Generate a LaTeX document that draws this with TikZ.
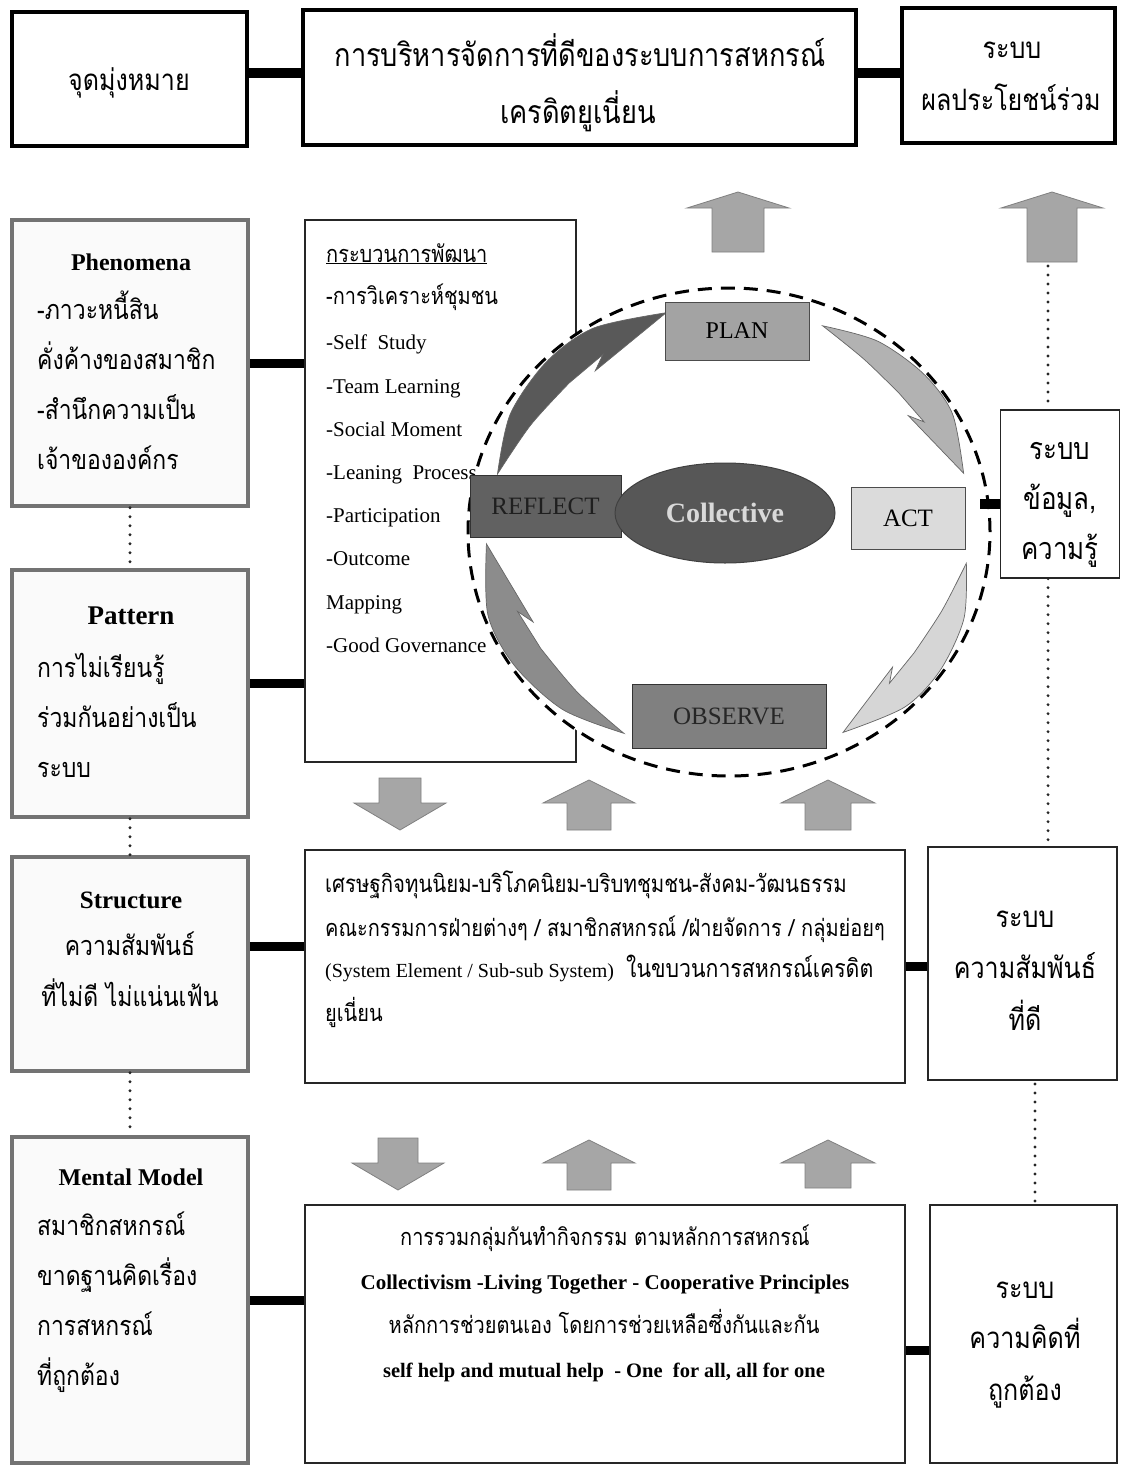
\documentclass[tikz,border=0pt]{standalone}
\usepackage{fontspec}
\setmainfont{Liberation Serif}
\newfontfamily\thai[Script=Thai,FakeStretch=0.85]{Loma}
\usetikzlibrary{calc,shapes.geometric}
\newcommand\fs[1]{\fontsize{#1}{#1}\selectfont}
\newcommand\uparr[6]{\filldraw[blkarrow] (#1,#2) -- (#1+#5,#3) -- (#1+#6,#3) -- (#1+#6,#4) -- (#1-#6,#4) -- (#1-#6,#3) -- (#1-#5,#3) -- cycle;}
\newcommand\cycarrow[3]{%
 \filldraw[fill=#1, draw=black!60, line width=0.7]
  plot[smooth] coordinates {({#2}:224) ({#2+0.25*(#3-#2)}:236) ({#2+0.5*(#3-#2)}:241) ({#2+0.72*(#3-#2)}:240) ({#3}:227)}
  -- ({#2+0.62*(#3-#2)}:204) -- ({#2+0.69*(#3-#2)}:213)
  -- plot[smooth] coordinates {({#2+0.5*(#3-#2)}:211) ({#2+0.25*(#3-#2)}:214) ({#2}:224)}
  -- cycle;}
\begin{document}
\begin{tikzpicture}[x=1pt,y=-1pt,
 topbox/.style={draw=black, line width=4, fill=white, inner sep=0},
 lbox/.style={draw=black!55, line width=3.5, fill=black!2, inner sep=0},
 tbox/.style={draw=black!85, line width=1.3, fill=white, inner sep=0},
 bar/.style={line width=9, black},
 dotline/.style={line width=3.2, dash pattern=on 0pt off 9pt, line cap=round, black!85},
 txt/.style={inner sep=0, anchor=base},
 txtl/.style={inner sep=0, anchor=base west},
 blkarrow/.style={fill=black!35, draw=black!50, line width=0.8},
 cyc/.style={draw=black!70, line width=1, inner sep=0, font=\fs{24}}]
\useasboundingbox[fill=white] (0,0) rectangle (1121,1467);

% ---------- top row
\node[topbox, minimum width=235, minimum height=134] (goal) at (129.5,79) {};
\node[topbox, minimum width=553, minimum height=135] (mgmt) at (579.5,77.5) {};
\node[topbox, minimum width=213, minimum height=135] (benefit) at (1008.5,75.5) {};
\draw[bar, line width=10] ($(goal.east)+(0,-6)$) -- ($(goal.east -| mgmt.west)+(0,-6)$);
\draw[bar, line width=10] ($(mgmt.east)+(0,-5)$) -- ($(mgmt.east -| benefit.west)+(0,-5)$);
\node[txt, font=\thai\fs{29.5}] at (129,90) {จุดมุ่งหมาย};
\node[txt, font=\thai\fs{32}] at (580,66) {การบริหารจัดการที่ดีของระบบการสหกรณ์};
\node[txt, font=\thai\fs{32}] at (578,123) {เครดิตยูเนี่ยน};
\node[txt, font=\thai\fs{29.5}] at (1012,58) {ระบบ};
\node[txt, font=\thai\fs{29.5}] at (1011,110) {ผลประโยชน์ร่วม};

% ---------- block arrows
\uparr{738}{192}{208}{252}{51}{26}
\uparr{1052}{192}{208}{262}{51}{25}
\uparr{400}{830}{803}{778}{46}{21}
\uparr{589}{780}{803}{830}{46}{22}
\uparr{828}{780}{803}{830}{47}{23}
\uparr{398}{1190}{1163}{1138}{46}{20}
\uparr{589}{1140}{1163}{1190}{46}{22}
\uparr{828}{1140}{1163}{1188}{47}{23}

% ---------- left column
\node[lbox, minimum width=236, minimum height=286] (phen) at (130,363) {};
\node[lbox, minimum width=236, minimum height=247] (patt) at (130,693.5) {};
\node[lbox, minimum width=236, minimum height=214] (struc) at (130,964) {};
\node[lbox, minimum width=236, minimum height=326] (mental) at (130,1300) {};
\draw[dotline] (phen.south) -- (patt.north);
\draw[dotline] (patt.south) -- (struc.north);
\draw[dotline] (struc.south) -- (mental.north);

\node[txt, font=\bfseries\fs{24}] at (131,270) {Phenomena};
\node[txtl, font=\thai\fs{27}] at (37,319) {-ภาวะหนี้สิน};
\node[txtl, font=\thai\fs{27}] at (37,369) {คั่งค้างของสมาชิก};
\node[txtl, font=\thai\fs{27}] at (37,419) {-สำนึกความเป็น};
\node[txtl, font=\thai\fs{27}] at (37,469) {เจ้าขององค์กร};

\node[txt, font=\bfseries\fs{27}] at (131,624) {Pattern};
\node[txtl, font=\thai\fs{27}] at (37,677) {การไม่เรียนรู้};
\node[txtl, font=\thai\fs{27}] at (37,727) {ร่วมกันอย่างเป็น};
\node[txtl, font=\thai\fs{27}] at (37,777) {ระบบ};

\node[txt, font=\bfseries\fs{25}] at (131,908) {Structure};
\node[txt, font=\thai\fs{27}] at (130,955) {ความสัมพันธ์};
\node[txt, font=\thai\fs{27}] at (130,1006) {ที่ไม่ดี ไม่แน่นเฟ้น};

\node[txt, font=\bfseries\fs{24}] at (131,1185) {Mental Model};
\node[txtl, font=\thai\fs{27}] at (37,1235) {สมาชิกสหกรณ์};
\node[txtl, font=\thai\fs{27}] at (37,1285) {ขาดฐานคิดเรื่อง};
\node[txtl, font=\thai\fs{27}] at (37,1335) {การสหกรณ์};
\node[txtl, font=\thai\fs{27}] at (37,1385) {ที่ถูกต้อง};

% ---------- process box
\node[tbox, fill=none, minimum width=271, minimum height=542] (proc) at (440.5,491) {};
\draw[bar] (phen.east) -- (phen.east -| proc.west);
\draw[bar] ($(patt.east)+(0,-10)$) -- ($(patt.east -| proc.west)+(0,-10)$);
\node[txtl, font=\thai\fs{23.5}] at (326,262) {\underline{กระบวนการพัฒนา}};
\node[txtl, font=\thai\fs{23.5}] at (326,304) {-การวิเคราะห์ชุมชน};
\node[txtl, font=\fs{21}] at (326,349) {-Self\ \ Study};
\node[txtl, font=\fs{21}] at (326,393) {-Team Learning};
\node[txtl, font=\fs{21}] at (326,436) {-Social Moment};
\node[txtl, font=\fs{21}] at (326,479) {-Leaning\ \ Process};
\node[txtl, font=\fs{21}] at (326,522) {-Participation};
\node[txtl, font=\fs{21}] at (326,565) {-Outcome};
\node[txtl, font=\fs{21}] at (326,609) {Mapping};
\node[txtl, font=\fs{21}] at (326,652) {-Good Governance};

% ---------- cycle
\node[ellipse, draw=black, fill=white, line width=3, dash pattern=on 14pt off 9pt,
      minimum width=522, minimum height=488, inner sep=0] (ring) at (729,532) {};
\begin{scope}[shift={(729,532)}, xscale=1.07]
 \cycarrow{black!65}{195}{255}
 \cycarrow{black!30}{293}{345}
 \cycarrow{black!16}{8}{62}
 \cycarrow{black!45}{116}{177}
\end{scope}
\node[cyc, fill=black!36, minimum width=144, minimum height=58] (plan) at (737,331) {PLAN};
\node[cyc, fill=black!14, minimum width=114, minimum height=62, font=\fs{25}] (act) at (908,518) {ACT};
\node[cyc, fill=black!62, draw=black!80, minimum width=151, minimum height=62, text=black!88, font=\fs{25}] (refl) at (545.5,506) {REFLECT};
\node[ellipse, draw=black!75, line width=1, fill=black!66, minimum width=220, minimum height=100, inner sep=0,
      text=black!15, font=\bfseries\fs{28}] (coll) at (725,513) {Collective};
\node[cyc, fill=black!50, draw=black!80, minimum width=194, minimum height=64, text=black!85, font=\fs{25}] (obs) at (729,716) {OBSERVE};

% ---------- right column
\node[tbox, minimum width=119, minimum height=168] (info) at (1060,494) {};
\draw[bar, line width=10] ($(info.west)+(0,10)$) -- ($(info.west -| ring.east)+(-12,10)$);
\node[txt, font=\thai\fs{30.5}] at (1060,459) {ระบบ};
\node[txt, font=\thai\fs{30.5}] at (1060,509) {ข้อมูล,};
\node[txt, font=\thai\fs{30.5}] at (1060,559) {ความรู้};

\node[tbox, minimum width=189, minimum height=233] (rel) at (1022.5,963.5) {};
\node[txt, font=\thai\fs{29.5}] at (1025,927) {ระบบ};
\node[txt, font=\thai\fs{29.5}] at (1025,978) {ความสัมพันธ์};
\node[txt, font=\thai\fs{29.5}] at (1025,1030) {ที่ดี};

\node[tbox, minimum width=187, minimum height=258] (think) at (1023.5,1334) {};
\node[txt, font=\thai\fs{29.5}] at (1025,1298) {ระบบ};
\node[txt, font=\thai\fs{29.5}] at (1025,1348) {ความคิดที่};
\node[txt, font=\thai\fs{29.5}] at (1025,1400) {ถูกต้อง};

\coordinate (dtop) at (1048,266);
\coordinate (dlow) at (1035,1084);
\draw[dotline] (dtop) -- (dtop |- info.north);
\draw[dotline] (dtop |- info.south) -- (dtop |- rel.north);
\draw[dotline] (dlow) -- (dlow |- think.north);

% ---------- middle box
\node[tbox, minimum width=600, minimum height=233] (mid) at (605,966.5) {};
\draw[bar] ($(struc.east)+(0,-18)$) -- ($(struc.east -| mid.west)+(0,-18)$);
\draw[bar] (mid.east) -- (mid.east -| rel.west);
\node[txtl, font=\thai\fs{24}] at (325,892) {เศรษฐกิจทุนนิยม-บริโภคนิยม-บริบทชุมชน-สังคม-วัฒนธรรม};
\node[txtl, font=\thai\fs{23.5}] at (325,936) {คณะกรรมการฝ่ายต่างๆ / สมาชิกสหกรณ์ /ฝ่ายจัดการ / กลุ่มย่อยๆ};
\node[txtl, font=\fs{20}] at (325,977) {(System Element / Sub-sub System) {\thai\fs{25} ในขบวนการสหกรณ์เครดิต}};
\node[txtl, font=\thai\fs{23.5}] at (325,1021) {ยูเนี่ยน};

% ---------- bottom box
\node[tbox, minimum width=600, minimum height=258] (prin) at (605,1334) {};
\draw[bar] (mental.east) -- (mental.east -| prin.west);
\draw[bar] ($(prin.east)+(0,16)$) -- ($(prin.east -| think.west)+(0,16)$);
\node[txt, font=\thai\fs{23.5}] at (605,1245) {การรวมกลุ่มกันทำกิจกรรม ตามหลักการสหกรณ์};
\node[txt, font=\bfseries\fs{21}] at (605,1289) {Collectivism -Living Together - Cooperative Principles};
\node[txt, font=\thai\fs{23.5}] at (604,1333) {หลักการช่วยตนเอง โดยการช่วยเหลือซึ่งกันและกัน};
\node[txt, font=\bfseries\fs{20.5}] at (604,1377) {self help and mutual help\ \ - One\ \ for all, all for one};
\end{tikzpicture}
\end{document}
